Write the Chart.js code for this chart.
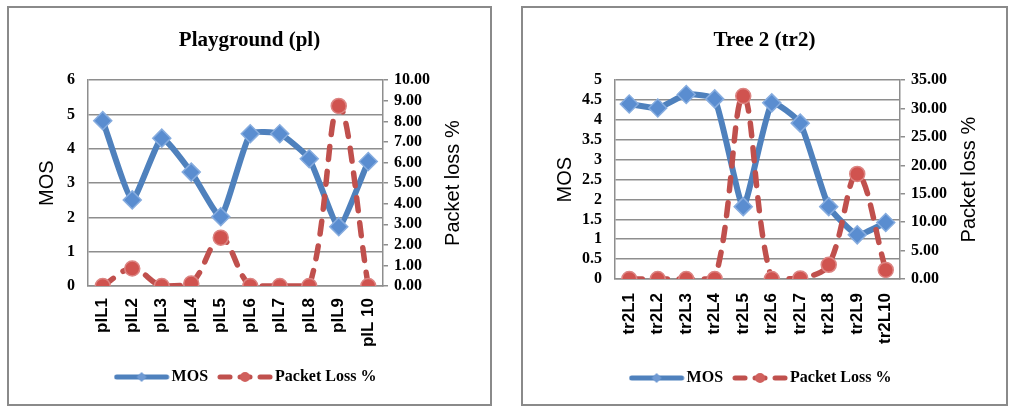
<!DOCTYPE html>
<html>
<head>
<meta charset="utf-8">
<script src="https://cdn.jsdelivr.net/npm/chart.js@4.4.0/dist/chart.umd.min.js"></script>
<style>
  html, body { margin: 0; padding: 0; background: #fff; }
  body { width: 1013px; height: 410px; position: relative; overflow: hidden; }
  .box { position: absolute; top: 6px; height: 400px; border: 2px solid #8a8a8a; box-sizing: border-box; background: #fff; }
  #box1 { left: 7px; width: 485px; }
  #box2 { left: 521px; width: 487px; }
  .box canvas { display: block; }
</style>
</head>
<body>
<div class="box" id="box1"><canvas id="plChart" width="481" height="396"></canvas></div>
<div class="box" id="box2"><canvas id="trChart" width="483" height="396"></canvas></div>
<script>
// data
const plLabels = ['plL1', 'plL2', 'plL3', 'plL4', 'plL5', 'plL6', 'plL7', 'plL8', 'plL9', 'plL 10'];
const plMos = [4.82, 2.51, 4.31, 3.32, 2.02, 4.44, 4.44, 3.71, 1.73, 3.63];
const plLoss = [0.0, 0.85, 0.0, 0.12, 2.35, 0.0, 0.0, 0.0, 8.75, 0.0];
const plMosTicks = [0, 1, 2, 3, 4, 5, 6];
const plLossTicks = [0, 1, 2, 3, 4, 5, 6, 7, 8, 9, 10];

const trLabels = ['tr2L1', 'tr2L2', 'tr2L3', 'tr2L4', 'tr2L5', 'tr2L6', 'tr2L7', 'tr2L8', 'tr2L9', 'tr2L10'];
const trMos = [4.40, 4.30, 4.64, 4.53, 1.82, 4.43, 3.92, 1.82, 1.11, 1.42];
const trLoss = [0.0, 0.0, 0.0, 0.0, 32.2, 0.0, 0.1, 2.5, 18.5, 1.6];
const trMosTicks = [0, 0.5, 1, 1.5, 2, 2.5, 3, 3.5, 4, 4.5, 5];
const trLossTicks = [0, 5, 10, 15, 20, 25, 30, 35];

const SERIF = '"Liberation Serif", "DejaVu Serif", serif';
const SANS = '"Liberation Sans", Arial, sans-serif';
const GRID = '#8e8e8e';
const MOS_COLOR = '#4f81bd';
const LOSS_COLOR = '#c0504d';

// legend icons: line with a marker in the middle
function legendIcon(color, dash, marker) {
    const c = document.createElement('canvas');
    c.width = 59;
    c.height = 18;
    const g = c.getContext('2d');
    g.strokeStyle = color;
    g.lineWidth = 5;
    g.lineCap = 'round';
    g.setLineDash(dash);
    g.beginPath();
    g.moveTo(3, 9);
    g.lineTo(53, 9);
    g.stroke();
    g.setLineDash([]);
    g.beginPath();
    if (marker === 'diamond') {
        g.moveTo(28, 4); g.lineTo(33, 9); g.lineTo(28, 14); g.lineTo(23, 9);
        g.closePath();
        g.fillStyle = '#6f9ad3';
    } else {
        g.arc(28, 9, 5, 0, Math.PI * 2);
        g.fillStyle = '#d0605d';
    }
    g.fill();
    return c;
}
const icons = [legendIcon(MOS_COLOR, [], 'diamond'), legendIcon(LOSS_COLOR, [10, 10], 'circle')];

// axis title on the right, read bottom to top like the original
const rightTitlePlugin = {
    id: 'rightTitle',
    afterDraw(chart, args, opts) {
        const {ctx, chartArea} = chart;
        const scale = chart.scales.y1;
        ctx.save();
        ctx.translate(scale.right - opts.offset, (chartArea.top + chartArea.bottom) / 2);
        ctx.rotate(-Math.PI / 2);
        ctx.font = '20px ' + SANS;
        ctx.fillStyle = '#000';
        ctx.textAlign = 'center';
        ctx.textBaseline = 'middle';
        ctx.fillText(opts.text, 0, 0);
        ctx.restore();
    }
};

function buildChart(id, o) {
    return new Chart(document.getElementById(id), {
        type: 'line',
        data: {
            labels: o.labels,
            datasets: [{
                label: 'MOS',
                data: o.mos,
                yAxisID: 'y',
                order: 1,
                borderColor: MOS_COLOR,
                borderWidth: 6,
                borderJoinStyle: 'round',
                tension: 0.15,
                pointStyle: 'rectRot',
                pointRadius: 9,
                pointBackgroundColor: '#5a8dd0',
                pointBorderColor: '#86acdf',
                pointBorderWidth: 1.5
            }, {
                label: 'Packet Loss %',
                data: o.loss,
                yAxisID: 'y1',
                order: 0,
                borderColor: LOSS_COLOR,
                borderWidth: 5.5,
                borderDash: [13, 12],
                borderCapStyle: 'round',
                tension: 0.35,
                pointStyle: 'circle',
                pointRadius: 7.5,
                pointBackgroundColor: '#d0534f',
                pointBorderColor: '#dc8482',
                pointBorderWidth: 1.5
            }]
        },
        options: {
            responsive: false,
            animation: false,
            layout: { padding: { top: 0, left: 0, right: 0, bottom: o.padBottom } },
            scales: {
                x: {
                    offset: true,
                    grid: { display: false, drawTicks: false },
                    border: { display: true, color: GRID, width: 1.5 },
                    ticks: {
                        autoSkip: false,
                        minRotation: 90,
                        maxRotation: 90,
                        padding: o.xPad,
                        color: '#000',
                        font: { family: SANS, weight: 'bold', size: 17 }
                    },
                    afterFit: s => { s.height = o.xHeight; }
                },
                y: {
                    position: 'left',
                    min: o.mosTicks[0],
                    max: o.mosTicks[o.mosTicks.length - 1],
                    afterBuildTicks: s => { s.ticks = o.mosTicks.map(v => ({ value: v })); },
                    grid: { color: GRID, lineWidth: 1.5, drawTicks: false },
                    border: { display: true, color: GRID, width: 1.5 },
                    ticks: {
                        autoSkip: false,
                        padding: 13,
                        color: '#000',
                        font: { family: SERIF, weight: 'bold', size: 16 },
                        callback: v => String(v)
                    },
                    title: {
                        display: true,
                        text: 'MOS',
                        color: '#000',
                        font: { family: SANS, size: 20 },
                        padding: { top: o.mosTitlePad, bottom: 0 }
                    },
                    afterFit: s => { s.width = o.leftWidth; }
                },
                y1: {
                    position: 'right',
                    min: o.lossTicks[0],
                    max: o.lossTicks[o.lossTicks.length - 1],
                    afterBuildTicks: s => { s.ticks = o.lossTicks.map(v => ({ value: v })); },
                    grid: { drawOnChartArea: false, color: GRID, lineWidth: 1.5, tickLength: 5 },
                    border: { display: true, color: GRID, width: 1.5 },
                    ticks: {
                        autoSkip: false,
                        padding: 6,
                        color: '#000',
                        font: { family: SERIF, weight: 'bold', size: 16 },
                        callback: v => Number(v).toFixed(2)
                    },
                    afterFit: s => { s.width = o.rightWidth; }
                }
            },
            plugins: {
                title: {
                    display: true,
                    text: o.title,
                    color: '#000',
                    font: { family: SERIF, weight: 'bold', size: 21 },
                    padding: { top: 20, bottom: 27 }
                },
                legend: {
                    position: 'bottom',
                    labels: {
                        usePointStyle: true,
                        pointStyleWidth: 41,
                        padding: 18,
                        color: '#000',
                        font: { family: SERIF, weight: 'bold', size: 16 },
                        sort: (a, b) => a.datasetIndex - b.datasetIndex,
                        generateLabels: chart => {
                            const items = Chart.defaults.plugins.legend.labels.generateLabels(chart);
                            items.forEach(it => { it.pointStyle = icons[it.datasetIndex]; });
                            return items;
                        }
                    }
                },
                tooltip: { enabled: false },
                rightTitle: { text: 'Packet loss %', offset: 37 }
            }
        },
        plugins: [rightTitlePlugin]
    });
}

buildChart('plChart', {
    title: 'Playground (pl)',
    labels: plLabels, mos: plMos, loss: plLoss,
    mosTicks: plMosTicks, lossTicks: plLossTicks,
    leftWidth: 79, rightWidth: 107, mosTitlePad: 26,
    xHeight: 65, xPad: 12, padBottom: 9
});

buildChart('trChart', {
    title: 'Tree 2 (tr2)',
    labels: trLabels, mos: trMos, loss: trLoss,
    mosTicks: trMosTicks, lossTicks: trLossTicks,
    leftWidth: 92, rightWidth: 106, mosTitlePad: 30,
    xHeight: 73, xPad: 14, padBottom: 8
});
</script>
</body>
</html>
